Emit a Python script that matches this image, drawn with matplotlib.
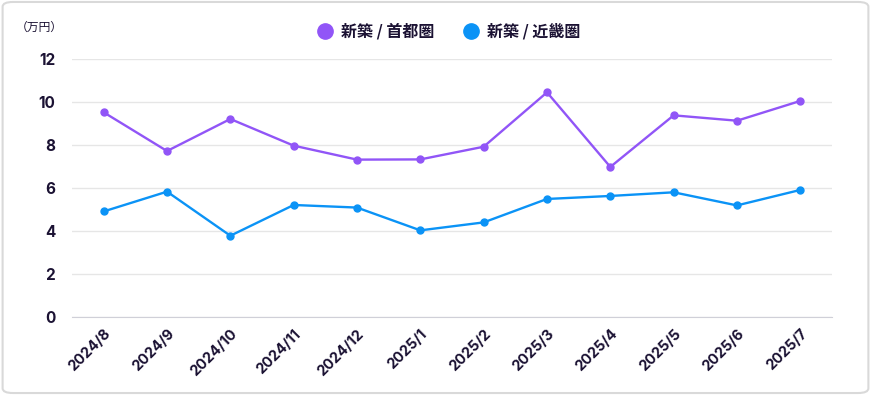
import matplotlib.pyplot as plt
from matplotlib.lines import Line2D
from matplotlib.patches import FancyBboxPatch

months = ['2024/8', '2024/9', '2024/10', '2024/11', '2024/12', '2025/1',
          '2025/2', '2025/3', '2025/4', '2025/5', '2025/6', '2025/7']
shutoken = [9.52, 7.72, 9.21, 7.97, 7.32, 7.33, 7.92, 10.45, 6.98, 9.38, 9.13, 10.05]
kinki = [4.91, 5.83, 3.78, 5.21, 5.09, 4.03, 4.40, 5.49, 5.63, 5.80, 5.19, 5.91]
series_names = ['新築 / 首都圏', '新築 / 近畿圏']
yticks = [0, 2, 4, 6, 8, 10, 12]

purple = '#9155f7'
blue = '#0b93f6'
ink = '#1b1233'

plt.rcParams['font.family'] = ['Inter', 'Noto Sans CJK JP', 'DejaVu Sans']

fig = plt.figure(figsize=(8.71, 3.95), dpi=100)
fig.patches.append(FancyBboxPatch((0.003, 0.005), 0.994, 0.99,
                                  boxstyle='round,pad=0,rounding_size=0.012',
                                  transform=fig.transFigure, facecolor='white',
                                  edgecolor='#d9d9d9', linewidth=1.5, zorder=-5))

ax = fig.add_axes([0.0827, 0.1975, 0.8725, 0.6531])
ax.set_zorder(2)
ax.set_facecolor('none')
x = list(range(len(months)))
ax.plot(x, shutoken, color=purple, lw=1.7, marker='o', ms=5, zorder=3)
ax.plot(x, kinki, color=blue, lw=1.7, marker='o', ms=5, zorder=3)

ax.set_xlim(-0.5, len(months) - 0.5)
ax.set_ylim(0, 12)
ax.set_yticks(yticks)
ax.set_yticklabels([str(v) for v in yticks], fontsize=11, fontweight='bold', color=ink)
ax.set_xticks(x)
ax.set_xticklabels(months, rotation=45, ha='right', rotation_mode='anchor',
                   fontsize=10.5, fontweight='bold', color=ink)
ax.tick_params(axis='both', length=0)
ax.tick_params(axis='y', pad=12)
ax.tick_params(axis='x', pad=7)
ax.grid(axis='y', color='#e6e6e6', lw=1)
for s in ['top', 'right', 'left']:
    ax.spines[s].set_visible(False)
ax.spines['bottom'].set_color('#d0d0d8')
ax.set_axisbelow(True)

fig.text(0.018, 0.93, '（万円）', fontsize=8.5, color=ink, ha='left', va='center',
         family=['Noto Sans CJK JP', 'DejaVu Sans'])

handles = [Line2D([], [], ls='none', marker='o', ms=11, color=c) for c in (purple, blue)]
leg = fig.legend(handles, series_names, loc='center', bbox_to_anchor=(0.514, 0.921), ncol=2,
                 frameon=False, prop={'family': ['Noto Sans CJK JP'], 'weight': 'bold', 'size': 11.5},
                 labelcolor=ink, handletextpad=0.4, columnspacing=1.7, handlelength=1.2)
leg.set_zorder(3)

fig.savefig('out.png', dpi=100)
